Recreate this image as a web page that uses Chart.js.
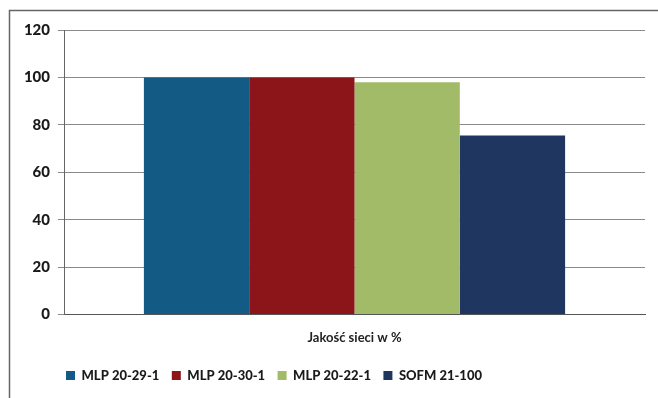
<!DOCTYPE html>
<html><head><meta charset="utf-8">
<script src="https://cdn.jsdelivr.net/npm/chart.js@4/dist/chart.umd.min.js"></script>
<style>html,body{margin:0;padding:0;background:#fff}#w{width:658px;height:398px}</style>
</head><body><div id="w"><canvas id="c" width="658" height="398"></canvas></div>
<script>
const categories = ['Jakość sieci w %'];
const seriesNames = ['MLP 20-29-1', 'MLP 20-30-1', 'MLP 20-22-1', 'SOFM 21-100'];
const seriesValues = [[100], [100], [98], [75.5]];
const seriesColors = ['#135b84', '#8b1519', '#a1bb69', '#1f3660'];
const yTicks = [0, 20, 40, 60, 80, 100, 120];

const borderPlugin = {
  id: 'outerBorder',
  afterLayout(chart) {
    if (chart.legend) {
      const p = chart.legend.options.labels.padding;
      const w = chart.legend.right - chart.legend.left;
      chart.legend.left = 66 - p;
      chart.legend.right = chart.legend.left + w;
    }
  },
  afterDraw(chart) {
    const ctx = chart.ctx;
    ctx.save();
    ctx.strokeStyle = '#666';
    ctx.lineWidth = 1.5;
    ctx.strokeRect(9.5, 10.5, 700, 500);
    ctx.restore();
  }
};

new Chart(document.getElementById('c'), {
  type: 'bar',
  data: {
    labels: categories,
    datasets: seriesNames.map((n, i) => ({
      label: n,
      data: seriesValues[i],
      backgroundColor: seriesColors[i],
      borderWidth: 0,
      categoryPercentage: 0.725,
      barPercentage: 1.0
    }))
  },
  options: {
    responsive: false,
    animation: false,
    layout: { padding: { left: 10, top: 30, right: 13, bottom: 6 } },
    plugins: {
      tooltip: { enabled: false },
      legend: {
        position: 'bottom',
        align: 'start',
        labels: {
          boxWidth: 9, boxHeight: 9, padding: 12.5,
          color: '#1a1a1a',
          font: { family: 'Lato', size: 13, weight: '900' }
        }
      }
    },
    scales: {
      x: {
        grid: { display: false, drawTicks: false },
        border: { color: '#555', width: 1 },
        ticks: { padding: 16, color: '#222', font: { family: 'Lato', size: 13, weight: 'bold' } },
        afterFit(s) { s.height = 42; }
      },
      y: {
        min: 0, max: 120,
        afterBuildTicks(s) { s.ticks = yTicks.map(v => ({ value: v })); },
        afterFit(s) { s.width = 54; },
        grid: { color: '#8a8a8a', lineWidth: 1, tickLength: 6 },
        border: { color: '#666', width: 1 },
        ticks: { padding: 8, color: '#1a1a1a', font: { family: 'Lato', size: 15, weight: '900' } }
      }
    }
  },
  plugins: [borderPlugin]
});
</script></body></html>
